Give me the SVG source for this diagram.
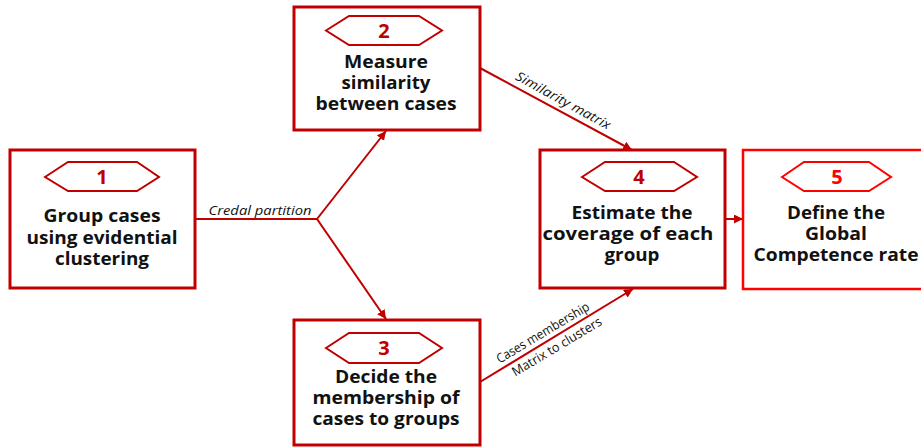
<svg xmlns="http://www.w3.org/2000/svg" width="921" height="447" viewBox="0 0 921 447">
<defs>
<style>
.box{fill:#fff;stroke:#C00000;stroke-width:3}
.box5{fill:#fff;stroke:#FF0000;stroke-width:2.5}
.hex{fill:#fff;stroke:#C00000;stroke-width:2}
.hex5{fill:#fff;stroke:#FF0000;stroke-width:2}
.num{font-family:"Open Sans",sans-serif;font-weight:bold;font-size:20px;fill:#C00000;text-anchor:middle}
.num5{fill:#FF0000}
.t{font-family:"Open Sans",sans-serif;font-weight:bold;font-size:17px;fill:#111;text-anchor:middle}
.lbl{font-family:"Open Sans",sans-serif;font-size:12px;fill:#111;text-anchor:middle}
.big{font-size:13px}
.it{font-style:italic}
.conn{fill:none;stroke:#C00000;stroke-width:2}
</style>
<marker id="arr" viewBox="0 0 10 10" refX="10" refY="5" markerWidth="9" markerHeight="9" markerUnits="userSpaceOnUse" orient="auto">
<path d="M0,0 L10,5 L0,10 Z" fill="#C00000"/>
</marker>
</defs>

<g id="connectors">
<polyline class="conn" points="195,219 317,219"/>
<line class="conn" x1="317" y1="219" x2="386" y2="131" marker-end="url(#arr)"/>
<line class="conn" x1="317" y1="219" x2="386" y2="319" marker-end="url(#arr)"/>
<line class="conn" x1="480" y1="68" x2="632" y2="150" marker-end="url(#arr)"/>
<line class="conn" x1="480" y1="382" x2="633" y2="289" marker-end="url(#arr)"/>
<line class="conn" x1="725" y1="219" x2="743" y2="219" marker-end="url(#arr)"/>
<text class="lbl it" x="260" y="215" textLength="103" lengthAdjust="spacingAndGlyphs">Credal partition</text>
<text class="lbl it big" transform="translate(563,101) rotate(28.7)" x="0" y="4" textLength="106" lengthAdjust="spacingAndGlyphs">Similarity matrix</text>
<text class="lbl big" transform="translate(543,333) rotate(-31)" x="0" y="4" textLength="106" lengthAdjust="spacingAndGlyphs">Cases membership</text>
<text class="lbl big" transform="translate(557,347) rotate(-31)" x="0" y="4" textLength="102" lengthAdjust="spacingAndGlyphs">Matrix to clusters</text>
</g>

<g id="node1">
<rect class="box" x="10" y="150" width="185" height="138"/>
<polygon class="hex" points="45,177 68,162 137,162 159,177 137,191 68,191"/>
<text class="num" x="102" y="184">1</text>
<text class="t" x="102" y="222" textLength="117" lengthAdjust="spacingAndGlyphs">Group cases</text>
<text class="t" x="102" y="244" textLength="151" lengthAdjust="spacingAndGlyphs">using evidential</text>
<text class="t" x="102" y="265" textLength="94" lengthAdjust="spacingAndGlyphs">clustering</text>
</g>

<g id="node2">
<rect class="box" x="294" y="7" width="186" height="123"/>
<polygon class="hex" points="326,30.5 349,16 419,16 442,30.5 419,45 349,45"/>
<text class="num" x="384" y="38">2</text>
<text class="t" x="386" y="68" textLength="84" lengthAdjust="spacingAndGlyphs">Measure</text>
<text class="t" x="386" y="89" textLength="89" lengthAdjust="spacingAndGlyphs">similarity</text>
<text class="t" x="386" y="110" textLength="141" lengthAdjust="spacingAndGlyphs">between cases</text>
</g>

<g id="node3">
<rect class="box" x="294" y="320" width="186" height="125"/>
<polygon class="hex" points="326,348 349,333 419,333 442,348 419,363 349,363"/>
<text class="num" x="384" y="355">3</text>
<text class="t" x="386" y="383" textLength="102" lengthAdjust="spacingAndGlyphs">Decide the</text>
<text class="t" x="386" y="404" textLength="147" lengthAdjust="spacingAndGlyphs">membership of</text>
<text class="t" x="386" y="425" textLength="147" lengthAdjust="spacingAndGlyphs">cases to groups</text>
</g>

<g id="node4">
<rect class="box" x="540" y="150" width="185" height="138"/>
<polygon class="hex" points="582,177 605,162 674,162 697,177 674,191 605,191"/>
<text class="num" x="639" y="184">4</text>
<text class="t" x="632" y="219" textLength="121" lengthAdjust="spacingAndGlyphs">Estimate the</text>
<text class="t" x="628" y="240" textLength="171" lengthAdjust="spacingAndGlyphs">coverage of each</text>
<text class="t" x="632" y="261" textLength="55" lengthAdjust="spacingAndGlyphs">group</text>
</g>

<g id="node5">
<rect class="box5" x="743" y="150" width="190" height="139"/>
<polygon class="hex5" points="782,177 804,162 869,162 891,177 869,191 804,191"/>
<text class="num num5" x="837" y="184">5</text>
<text class="t" x="836" y="219" textLength="98" lengthAdjust="spacingAndGlyphs">Define the</text>
<text class="t" x="836" y="240" textLength="62" lengthAdjust="spacingAndGlyphs">Global</text>
<text class="t" x="836" y="261" textLength="165" lengthAdjust="spacingAndGlyphs">Competence rate</text>
</g>
</svg>
